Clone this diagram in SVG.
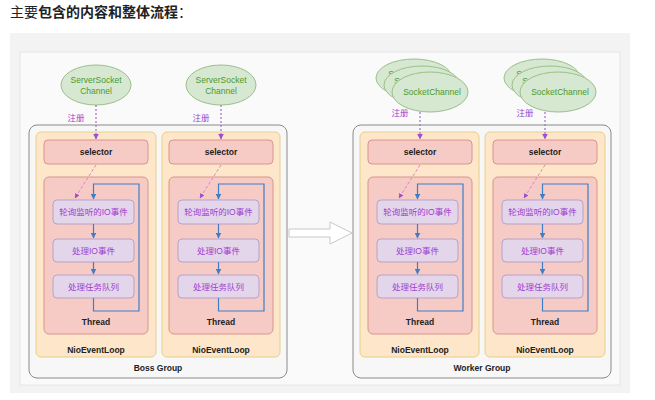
<svg xmlns="http://www.w3.org/2000/svg" width="655" height="400" viewBox="0 0 655 400">
<defs>
<style>
.hdr{font-family:"Noto Sans CJK SC","Liberation Sans",sans-serif;font-size:14px;fill:#222}
.t{font-family:"Liberation Sans","Noto Sans CJK SC",sans-serif;font-size:8.5px;text-anchor:middle}
.b{font-weight:bold;fill:#222}
.g{fill:#4d9a2a}
.p{fill:#a040d0}
.grp{fill:#f7f7f7;stroke:#8a8a8a;stroke-width:1}
.nel{fill:#fde6c9;stroke:#e8cf88;stroke-width:1}
.sel{fill:#f6cbc6;stroke:#d9948c;stroke-width:1}
.pb{fill:#e3d5ea;stroke:#b9a0c8;stroke-width:1}
.el{fill:#d6e8d1;stroke:#9bbf8a;stroke-width:1}
.blue{fill:none;stroke:#3c7fc8;stroke-width:1.2}
.reg{fill:none;stroke:#a070c0;stroke-width:1.2;stroke-dasharray:2 2}
.pd{fill:none;stroke:#e080c8;stroke-width:1;stroke-dasharray:3 2}
</style>
<marker id="ab" viewBox="0 0 10 10" refX="9" refY="5" markerWidth="5" markerHeight="5" orient="auto"><path d="M0,0L10,5L0,10z" fill="#3c7fc8"/></marker>
<marker id="ap" viewBox="0 0 10 10" refX="9" refY="5" markerWidth="5" markerHeight="5" orient="auto"><path d="M0,0L10,5L0,10z" fill="#9a50d0"/></marker>
</defs>
<rect width="655" height="400" fill="#ffffff"/>
<text x="10" y="17" class="hdr">主要<tspan font-weight="bold">包含的内容和整体流程</tspan>：</text>
<rect x="10" y="33" width="620" height="360" fill="#f3f3f3"/>
<rect x="20" y="52" width="600" height="333" fill="#fafafa" stroke="#e6e6e6"/>

<g id="boss-group"><rect x="29" y="125" width="258" height="253" rx="8" class="grp"/><text x="158" y="371" class="t b">Boss Group</text></g>
<g id="worker-group"><rect x="353" y="125" width="258" height="253" rx="8" class="grp"/><text x="482" y="371" class="t b">Worker Group</text></g>

<g id="big-arrow"><path d="M289,229H330V222L352,233L330,244V237H289Z" fill="#ffffff" stroke="#c8c8c8" stroke-width="1"/></g>

<g id="boss-loop-1">
<rect x="36" y="132" width="120" height="225" rx="5" class="nel"/><text x="96" y="353" class="t b">NioEventLoop</text>
<rect x="44" y="140" width="104" height="24" rx="4" class="sel"/><text x="96" y="155" class="t b">selector</text>
<rect x="44" y="177" width="104" height="157" rx="5" class="sel"/><text x="96" y="325" class="t b">Thread</text>
<rect x="53" y="200" width="81" height="24" rx="4" class="pb"/><text x="93.5" y="215" class="t p">轮询监听的IO事件</text>
<rect x="53" y="239" width="81" height="23" rx="4" class="pb"/><text x="93.5" y="253.500" class="t p">处理IO事件</text>
<rect x="53" y="275" width="81" height="23" rx="4" class="pb"/><text x="93.5" y="289.500" class="t p">处理任务队列</text>
</g>
<g id="boss-loop-2">
<rect x="162" y="132" width="118" height="225" rx="5" class="nel"/><text x="221" y="353" class="t b">NioEventLoop</text>
<rect x="169" y="140" width="104" height="24" rx="4" class="sel"/><text x="221" y="155" class="t b">selector</text>
<rect x="169" y="177" width="104" height="157" rx="5" class="sel"/><text x="221" y="325" class="t b">Thread</text>
<rect x="178" y="200" width="81" height="24" rx="4" class="pb"/><text x="218.500" y="215" class="t p">轮询监听的IO事件</text>
<rect x="178" y="239" width="81" height="23" rx="4" class="pb"/><text x="218.500" y="253.500" class="t p">处理IO事件</text>
<rect x="178" y="275" width="81" height="23" rx="4" class="pb"/><text x="218.500" y="289.500" class="t p">处理任务队列</text>
</g>
<g id="worker-loop-1">
<rect x="360" y="132" width="119" height="225" rx="5" class="nel"/><text x="420" y="353" class="t b">NioEventLoop</text>
<rect x="368" y="140" width="104" height="24" rx="4" class="sel"/><text x="420" y="155" class="t b">selector</text>
<rect x="368" y="177" width="104" height="157" rx="5" class="sel"/><text x="420" y="325" class="t b">Thread</text>
<rect x="377" y="200" width="81" height="24" rx="4" class="pb"/><text x="417.500" y="215" class="t p">轮询监听的IO事件</text>
<rect x="377" y="239" width="81" height="23" rx="4" class="pb"/><text x="417.500" y="253.500" class="t p">处理IO事件</text>
<rect x="377" y="275" width="81" height="23" rx="4" class="pb"/><text x="417.500" y="289.500" class="t p">处理任务队列</text>
</g>
<g id="worker-loop-2">
<rect x="485" y="132" width="120" height="225" rx="5" class="nel"/><text x="545" y="353" class="t b">NioEventLoop</text>
<rect x="493" y="140" width="104" height="24" rx="4" class="sel"/><text x="545" y="155" class="t b">selector</text>
<rect x="493" y="177" width="104" height="157" rx="5" class="sel"/><text x="545" y="325" class="t b">Thread</text>
<rect x="502" y="200" width="81" height="24" rx="4" class="pb"/><text x="542.500" y="215" class="t p">轮询监听的IO事件</text>
<rect x="502" y="239" width="81" height="23" rx="4" class="pb"/><text x="542.500" y="253.500" class="t p">处理IO事件</text>
<rect x="502" y="275" width="81" height="23" rx="4" class="pb"/><text x="542.500" y="289.500" class="t p">处理任务队列</text>
</g>

<g id="ssc-1"><ellipse cx="96" cy="85" rx="35" ry="20" class="el"/><text x="96" y="83" class="t g">ServerSocket</text><text x="96" y="94" class="t g">Channel</text></g>
<g id="ssc-2"><ellipse cx="221" cy="85" rx="35" ry="20" class="el"/><text x="221" y="83" class="t g">ServerSocket</text><text x="221" y="94" class="t g">Channel</text></g>
<g id="sc-1">
<ellipse cx="414" cy="78" rx="38" ry="19" class="el"/><text x="391" y="77" class="t g">S</text>
<ellipse cx="422" cy="85" rx="38" ry="19" class="el"/><text x="397" y="84" class="t g">S</text>
<ellipse cx="430" cy="92" rx="38" ry="20" class="el"/><text x="432" y="95" class="t g">SocketChannel</text>
</g>
<g id="sc-2">
<ellipse cx="542" cy="78" rx="38" ry="19" class="el"/><text x="519" y="77" class="t g">S</text>
<ellipse cx="550" cy="85" rx="38" ry="19" class="el"/><text x="525" y="84" class="t g">S</text>
<ellipse cx="558" cy="92" rx="38" ry="20" class="el"/><text x="560" y="95" class="t g">SocketChannel</text>
</g>

<g id="connectors">
<path d="M96,105V139" class="reg" marker-end="url(#ap)"/><text x="76" y="121" class="t p">注册</text>
<path d="M221,105V139" class="reg" marker-end="url(#ap)"/><text x="201" y="121" class="t p">注册</text>
<path d="M420,112V139" class="reg" marker-end="url(#ap)"/><text x="400" y="116" class="t p">注册</text>
<path d="M545,112V139" class="reg" marker-end="url(#ap)"/><text x="525" y="116" class="t p">注册</text>

<path d="M96,165L75,198" class="pd" marker-end="url(#ap)"/>
<path d="M221,165L200,198" class="pd" marker-end="url(#ap)"/>
<path d="M420,165L399,198" class="pd" marker-end="url(#ap)"/>
<path d="M545,165L524,198" class="pd" marker-end="url(#ap)"/>

<path d="M93.5,224V238" class="blue" marker-end="url(#ab)"/><path d="M93.5,262V274" class="blue" marker-end="url(#ab)"/>
<path d="M93.5,298V311H139V184H93.5V199" class="blue" marker-end="url(#ab)"/>
<path d="M218.5,224V238" class="blue" marker-end="url(#ab)"/><path d="M218.5,262V274" class="blue" marker-end="url(#ab)"/>
<path d="M218.5,298V311H264V184H218.5V199" class="blue" marker-end="url(#ab)"/>
<path d="M417.5,224V238" class="blue" marker-end="url(#ab)"/><path d="M417.5,262V274" class="blue" marker-end="url(#ab)"/>
<path d="M417.5,298V311H463V184H417.5V199" class="blue" marker-end="url(#ab)"/>
<path d="M542.5,224V238" class="blue" marker-end="url(#ab)"/><path d="M542.5,262V274" class="blue" marker-end="url(#ab)"/>
<path d="M542.5,298V311H588V184H542.5V199" class="blue" marker-end="url(#ab)"/>
</g>
</svg>
